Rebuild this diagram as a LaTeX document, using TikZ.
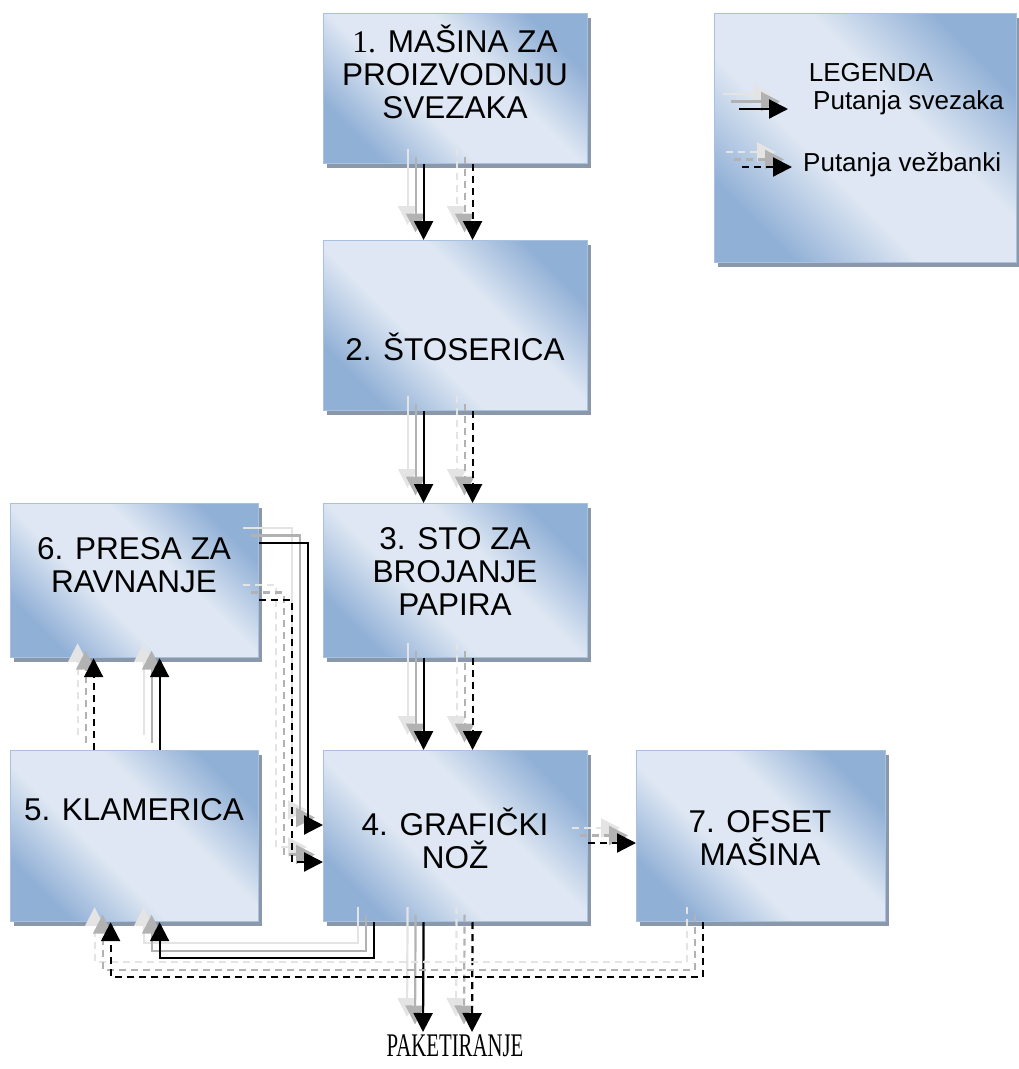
\documentclass[tikz,border=0pt]{standalone}
\usepackage{fontspec}
\setmainfont{Liberation Sans}
\newfontfamily\timesf{Liberation Serif}
\usetikzlibrary{arrows.meta,shadows}
\definecolor{boxlight}{RGB}{222,231,243}
\definecolor{boxdark}{RGB}{145,176,214}
\definecolor{boxedge}{RGB}{168,193,224}
\definecolor{shadowc}{RGB}{138,152,170}
\definecolor{ghostA}{RGB}{228,228,228}
\definecolor{ghostB}{RGB}{178,178,178}
\pgfdeclareverticalshading{boxshade}{100bp}{color(0bp)=(boxdark); color(25bp)=(boxdark); color(41bp)=(boxlight); color(59bp)=(boxlight); color(75bp)=(boxdark); color(100bp)=(boxdark)}
\tikzset{
  box/.style={draw=boxedge, line width=1.2pt, inner sep=0pt, anchor=north west,
    shading=boxshade, shading angle=-45,
    general shadow={fill=shadowc, shadow xshift=3pt, shadow yshift=-4pt}},
  boxtext/.style={align=center, font=\fontsize{31.5pt}{33pt}\selectfont, inner sep=0pt},
  legtext/.style={font=\fontsize{26pt}{28pt}\selectfont, inner sep=0pt},
  flowline/.style={line width=2.2pt, -{Triangle[length=19pt,width=19pt]}},
  dashline/.style={dash pattern=on 7pt off 5pt},
  solidline/.style={solid}
}
\newcommand\flowpath[2]{%
  \draw[flowline,#1,draw=ghostA,transform canvas={shift={(-16pt,15pt)}}] #2;
  \draw[flowline,#1,draw=ghostB,transform canvas={shift={(-8pt,7.5pt)}}] #2;
  \draw[flowline,#1,draw=black] #2;
}
\begin{document}
\begin{tikzpicture}[x=1pt,y=-1pt]
\useasboundingbox (0,0) rectangle (1019,1069);
% boxes
\node[box, minimum width=264pt, minimum height=150pt] (n1) at (323,13) {};
\node[box, minimum width=302pt, minimum height=249pt] (nl) at (714,13) {};
\node[box, minimum width=264pt, minimum height=170pt] (n2) at (323,240) {};
\node[box, minimum width=264pt, minimum height=154pt] (n3) at (323,503) {};
\node[box, minimum width=248pt, minimum height=154pt] (n6) at (10,503) {};
\node[box, minimum width=248pt, minimum height=171pt] (n5) at (10,750) {};
\node[box, minimum width=264pt, minimum height=171pt] (n4) at (323,750) {};
\node[box, minimum width=249pt, minimum height=171pt] (n7) at (636,750) {};
% texts
\node[boxtext] (t1) at (455,72) {{\timesf 1.} MAŠINA ZA\\PROIZVODNJU\\SVEZAKA};
\node[boxtext] (t2) at (455,347) {2. ŠTOSERICA};
\node[boxtext] (t3) at (455,571) {3. STO ZA\\BROJANJE\\PAPIRA};
\node[boxtext] (t6) at (134,565) {6. PRESA ZA\\RAVNANJE};
\node[boxtext] (t5) at (134,810) {5. KLAMERICA};
\node[boxtext] (t4) at (455,838) {4. GRAFIČKI\\NOŽ};
\node[boxtext] (t7) at (760,838) {7. OFSET\\MAŠINA};
\node[legtext] (lg) at (871,73) {LEGENDA};
\node[legtext, anchor=west] (lg1) at (813,103) {Putanja svezaka};
\node[legtext, anchor=west] (lg2) at (803,165) {Putanja vežbanki};
\node[inner sep=0pt, font=\timesf\fontsize{33pt}{33pt}\selectfont] (pk) at (455,1046) {\scalebox{0.63}[1]{PAKETIRANJE}};
\coordinate (pkt) at (455,1032);
\coordinate (ls1) at (739,109);
\coordinate (ls2) at (742,167);
% legend samples
\flowpath{solidline}{(ls1) -- ++(49,0)}
\flowpath{dashline}{(ls2) -- ++(50,0)}
% vertical main flow
\flowpath{solidline}{([xshift=-32pt]n1.south) -- ([xshift=-32pt]n2.north)}
\flowpath{dashline}{([xshift=17pt]n1.south) -- ([xshift=17pt]n2.north)}
\flowpath{solidline}{([xshift=-32pt]n2.south) -- ([xshift=-32pt]n3.north)}
\flowpath{dashline}{([xshift=17pt]n2.south) -- ([xshift=17pt]n3.north)}
\flowpath{solidline}{([xshift=-32pt]n3.south) -- ([xshift=-32pt]n4.north)}
\flowpath{dashline}{([xshift=17pt]n3.south) -- ([xshift=17pt]n4.north)}
\flowpath{solidline}{([xshift=-32pt]n4.south) -- ([xshift=-32pt]pkt)}
\flowpath{dashline}{([xshift=17pt]n4.south) -- ([xshift=17pt]pkt)}
% 6 -> 4
\flowpath{solidline}{([yshift=-40pt]n6.north east) -- ++(49,0) |- ([yshift=-75pt]n4.north west)}
\flowpath{dashline}{([yshift=-97pt]n6.north east) -- ++(33,0) |- ([yshift=-112pt]n4.north west)}
% 5 -> 6
\flowpath{dashline}{([xshift=-41pt]n5.north) -- ([xshift=-41pt]n6.south)}
\flowpath{solidline}{([xshift=25pt]n5.north) -- ([xshift=25pt]n6.south)}
% 4 -> 5, 7 -> 5
\flowpath{solidline}{([xshift=-82pt]n4.south) -- ++(0,36) -| ([xshift=25pt]n5.south)}
\flowpath{dashline}{([xshift=-58.5pt]n7.south) -- ++(0,55) -| ([xshift=-24pt]n5.south)}
% 4 -> 7
\flowpath{dashline}{([yshift=-93pt]n4.north east) -- ([yshift=-93pt]n7.north west)}
\end{tikzpicture}
\end{document}
